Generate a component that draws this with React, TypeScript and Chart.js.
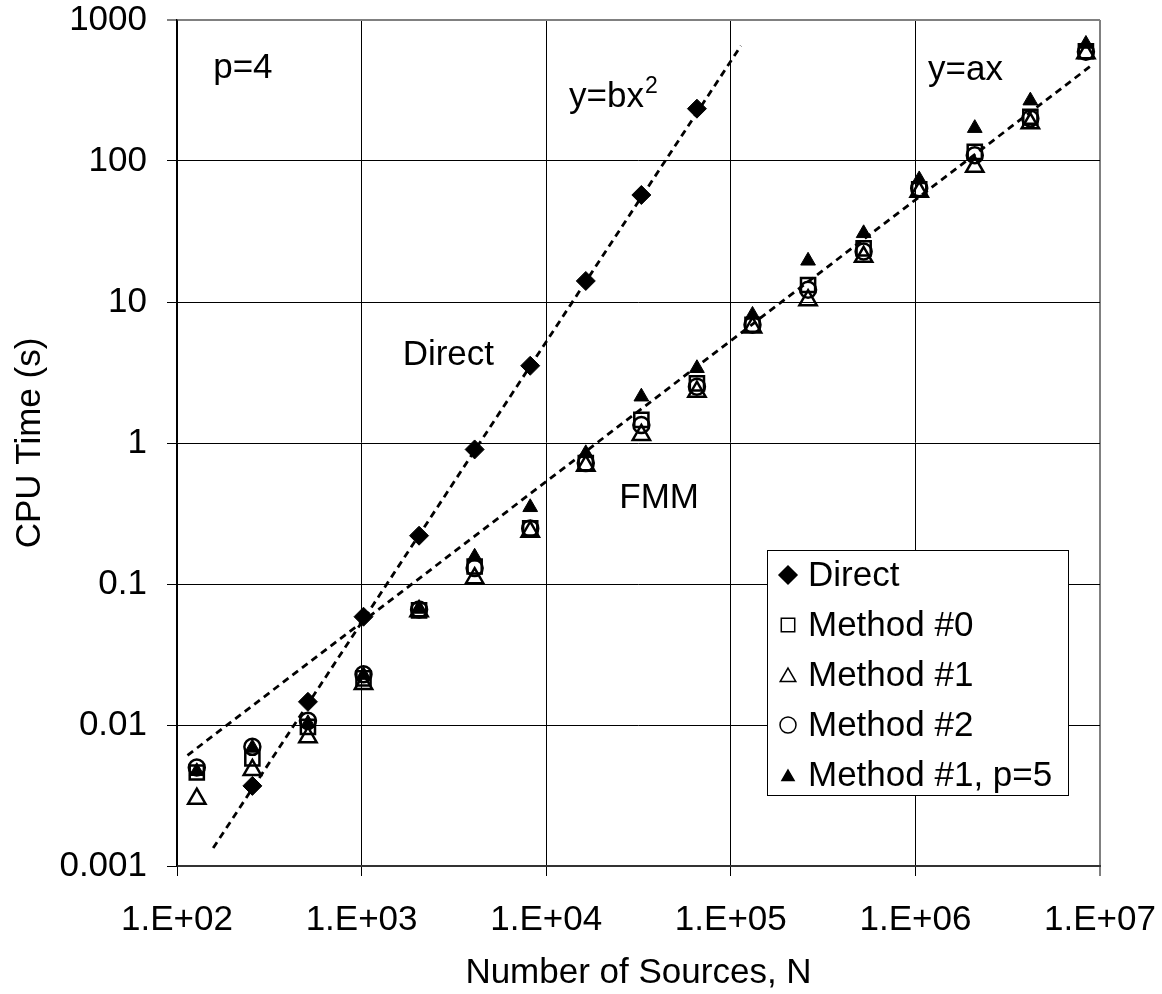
import React, { useEffect, useRef } from 'react';
import { Chart, registerables } from 'chart.js';
import { drawPoint } from 'chart.js/helpers';

Chart.register(...registerables);

// ---------- data ----------
const sources = [128, 256, 512, 1024, 2048, 4096, 8192, 16384, 32768, 65536, 131072, 262144, 524288, 1048576, 2097152, 4194304, 8388608];
const directTime = [null, 0.0037, 0.0146, 0.0586, 0.22, 0.9, 3.53, 14.1, 57.4, 235, null, null, null, null, null, null, null];
const method0Time = [0.0046, 0.0058, 0.0097, 0.0214, 0.065, 0.133, 0.248, 0.72, 1.46, 2.65, 6.9, 13.2, 24.0, 63, 116, 206, 600];
const method1Time = [0.003, 0.0048, 0.0082, 0.0195, 0.064, 0.11, 0.235, 0.69, 1.14, 2.31, 6.6, 10.3, 20.9, 60.5, 91, 185, 580];
const method2Time = [0.005, 0.007, 0.0107, 0.0229, 0.066, 0.13, 0.248, 0.72, 1.34, 2.51, 6.9, 12.2, 22.8, 64, 110, 200, 596];
const method1p5Time = [0.0047, 0.0069, 0.0103, 0.0226, 0.0665, 0.156, 0.35, 0.845, 2.13, 3.39, 8.1, 19.6, 30.7, 74, 171, 268, 676];

const trendDirectX = [157, 113500];
const trendDirectY = [0.00134, 657];
const trendFmmX = [114, 9160000];
const trendFmmY = [0.0061, 485];

const xTickValues = [1e2, 1e3, 1e4, 1e5, 1e6, 1e7];
const xTickLabels = ['1.E+02', '1.E+03', '1.E+04', '1.E+05', '1.E+06', '1.E+07'];
const yTickValues = [0.001, 0.01, 0.1, 1, 10, 100, 1000];
const yTickLabels = ['0.001', '0.01', '0.1', '1', '10', '100', '1000'];

const seriesLabels = ['Direct', 'Method #0', 'Method #1', 'Method #2', 'Method #1, p=5'];

const FONT = 'Liberation Sans, Arial, Helvetica, sans-serif';

function toPoints(xs: number[], ys: (number | null)[]) {
  const out: { x: number; y: number }[] = [];
  xs.forEach((x, i) => {
    const y = ys[i];
    if (y !== null && y !== undefined) out.push({ x, y });
  });
  return out;
}

// annotation texts (data coordinates)
const notes = [
  { text: 'p=4', x: 157, y: 388 },
  { text: 'y=bx', x: 13300, y: 241, sup: '2' },
  { text: 'y=ax', x: 1170000, y: 375 },
  { text: 'Direct', x: 1669, y: 3.57 },
  { text: 'FMM', x: 24880, y: 0.346 },
];

const annotationPlugin = {
  id: 'notes',
  afterDatasetsDraw(chart: any) {
    const { ctx, scales } = chart;
    ctx.save();
    ctx.fillStyle = '#000';
    ctx.textBaseline = 'alphabetic';
    ctx.textAlign = 'left';
    notes.forEach((n: any) => {
      const px = scales.x.getPixelForValue(n.x);
      const py = scales.y.getPixelForValue(n.y);
      ctx.font = `35px ${FONT}`;
      ctx.fillText(n.text, px, py);
      if (n.sup) {
        const w = ctx.measureText(n.text).width;
        ctx.font = `23px ${FONT}`;
        ctx.fillText(n.sup, px + w + 1, py - 14);
      }
    });
    ctx.restore();
  },
};

const legendPlugin = {
  id: 'innerLegend',
  afterDraw(chart: any) {
    const { ctx, chartArea } = chart;
    const boxL = chartArea.right - 333;
    const boxT = chartArea.top + 530;
    const boxW = 301;
    const boxH = 245;
    ctx.save();
    ctx.fillStyle = '#fff';
    ctx.fillRect(boxL, boxT, boxW, boxH);
    ctx.strokeStyle = '#000';
    ctx.lineWidth = 1;
    ctx.strokeRect(boxL + 0.5, boxT + 0.5, boxW, boxH);
    const sizes = [9, 9.5, 9, 8, 7];
    chart.data.datasets.forEach((ds: any, i: number) => {
      if (ds.isTrend) return;
      const cy = boxT + 25 + 50 * i;
      const mx = boxL + 21;
      ctx.fillStyle = ds.backgroundColor;
      ctx.strokeStyle = ds.borderColor;
      ctx.lineWidth = 1.5;
      drawPoint(ctx, { pointStyle: ds.pointStyle, radius: sizes[i], rotation: 0, borderWidth: 1.5 }, mx, cy + (ds.pointStyle === 'triangle' ? 2 : 0));
      ctx.fillStyle = '#000';
      ctx.font = `35px ${FONT}`;
      ctx.textAlign = 'left';
      ctx.textBaseline = 'middle';
      ctx.fillText(ds.label, boxL + 41, cy + 1);
    });
    ctx.restore();
  },
};

const edgeColor = (ctx: any, edgeValue: number) => {
  const v = ctx.tick ? ctx.tick.value : null;
  return v === edgeValue ? '#808080' : '#000';
};

export default function App() {
  const ref = useRef<HTMLCanvasElement | null>(null);

  useEffect(() => {
    document.body.style.margin = '0';
    document.body.style.overflow = 'hidden';
    if (!ref.current) return;
    const open = 'rgba(0,0,0,0)';
    const chart = new Chart(ref.current, {
      type: 'scatter',
      data: {
        datasets: [
          {
            label: seriesLabels[0],
            data: toPoints(sources, directTime),
            pointStyle: 'rectRot',
            pointRadius: 9.5,
            backgroundColor: '#000',
            borderColor: '#000',
            borderWidth: 1,
          },
          {
            label: seriesLabels[1],
            data: toPoints(sources, method0Time),
            pointStyle: 'rect',
            pointRadius: 10,
            backgroundColor: open,
            borderColor: '#000',
            borderWidth: 2.5,
          },
          {
            label: seriesLabels[2],
            data: toPoints(sources, method1Time),
            pointStyle: 'triangle',
            pointRadius: 10,
            backgroundColor: open,
            borderColor: '#000',
            borderWidth: 2.5,
          },
          {
            label: seriesLabels[3],
            data: toPoints(sources, method2Time),
            pointStyle: 'circle',
            pointRadius: 8,
            backgroundColor: open,
            borderColor: '#000',
            borderWidth: 2.5,
          },
          {
            label: seriesLabels[4],
            data: toPoints(sources, method1p5Time),
            pointStyle: 'triangle',
            pointRadius: 8.5,
            backgroundColor: '#000',
            borderColor: '#000',
            borderWidth: 1,
          },
          {
            label: 'y=bx^2',
            isTrend: true,
            data: toPoints(trendDirectX, trendDirectY),
            showLine: true,
            pointRadius: 0,
            borderColor: '#000',
            borderWidth: 2.8,
            borderDash: [7, 5],
          } as any,
          {
            label: 'y=ax',
            isTrend: true,
            data: toPoints(trendFmmX, trendFmmY),
            showLine: true,
            pointRadius: 0,
            borderColor: '#000',
            borderWidth: 2.8,
            borderDash: [7, 5],
          } as any,
        ],
      },
      options: {
        responsive: false,
        animation: false,
        events: [],
        layout: { padding: { left: 0, right: 62, top: 20, bottom: 0 } },
        plugins: {
          legend: { display: false },
          tooltip: { enabled: false },
        },
        scales: {
          x: {
            type: 'logarithmic',
            position: 'bottom',
            min: 100,
            max: 1e7,
            afterBuildTicks: (scale: any) => {
              scale.ticks = xTickValues.map((v) => ({ value: v, major: true }));
            },
            afterFit: (scale: any) => {
              scale.height = 128;
              scale.paddingLeft = 0;
              scale.paddingRight = 0;
            },
            ticks: {
              autoSkip: false,
              maxRotation: 0,
              padding: 23,
              color: '#000',
              font: { family: FONT, size: 35 },
              callback: (value: any) => {
                const i = xTickValues.indexOf(Number(value));
                return i >= 0 ? xTickLabels[i] : '';
              },
            },
            grid: {
              color: (c: any) => edgeColor(c, 1e7),
              lineWidth: (c: any) => (c.tick && c.tick.value === 1e7 ? 2 : 1),
              tickLength: 10,
            },
            border: { color: '#333', width: 2 },
            title: {
              display: true,
              text: 'Number of Sources, N',
              color: '#000',
              font: { family: FONT, size: 35 },
              padding: { top: 0, bottom: 0 },
            },
          },
          y: {
            type: 'logarithmic',
            position: 'left',
            min: 0.001,
            max: 1000,
            afterBuildTicks: (scale: any) => {
              scale.ticks = yTickValues.map((v) => ({ value: v, major: true }));
            },
            afterFit: (scale: any) => {
              scale.width = 177;
              scale.paddingTop = 0;
              scale.paddingBottom = 0;
            },
            ticks: {
              autoSkip: false,
              padding: 20,
              color: '#000',
              font: { family: FONT, size: 35, lineHeight: 1.1 },
              callback: (value: any) => {
                const i = yTickValues.indexOf(Number(value));
                return i >= 0 ? yTickLabels[i] : '';
              },
            },
            grid: {
              color: (c: any) => edgeColor(c, 1000),
              lineWidth: (c: any) => (c.tick && c.tick.value === 1000 ? 2 : 1),
              tickLength: 10,
            },
            border: { color: '#000', width: 1.5 },
            title: {
              display: true,
              text: 'CPU Time (s)',
              color: '#000',
              font: { family: FONT, size: 35 },
              padding: { top: 9, bottom: 0 },
            },
          },
        },
      } as any,
      plugins: [annotationPlugin, legendPlugin],
    });
    return () => chart.destroy();
  }, []);

  return (
    <div style={{ width: 1162, height: 994 }}>
      <canvas ref={ref} width={1162} height={994} />
    </div>
  );
}
